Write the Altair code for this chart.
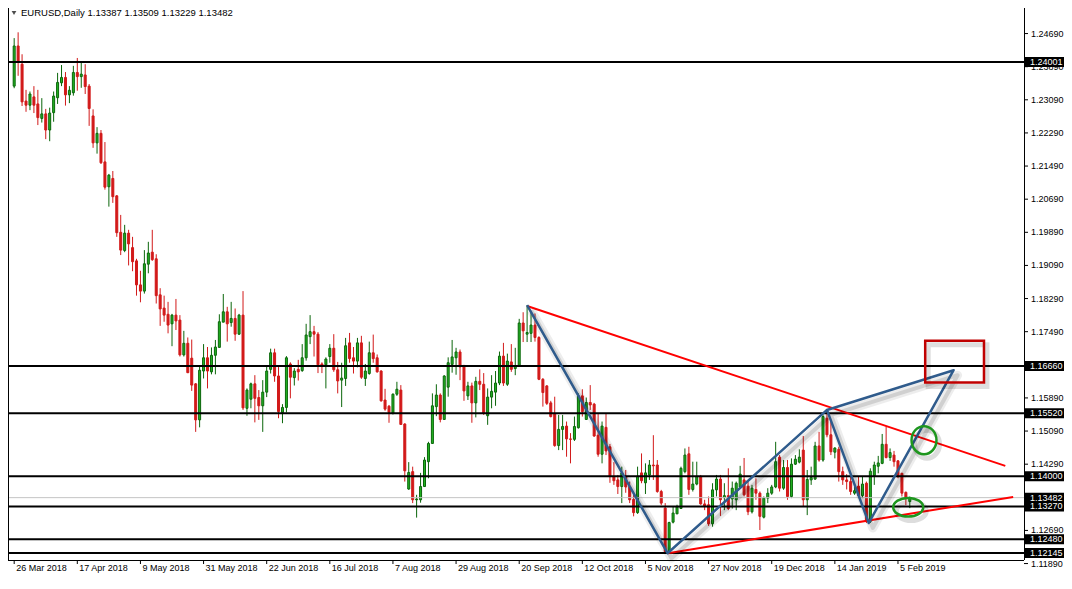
import altair as alt
import pandas as pd

# ---------------- data (EURUSD daily) ----------------
opens = [1.2342,1.2439,1.2395,1.2306,1.2296,1.2316,1.2299,1.2264,1.2275,1.2236,
         1.2278,1.2314,1.2350,1.2363,1.2321,1.2326,1.2375,1.2365,1.2369,1.2342,
         1.2270,1.2205,1.2228,1.2159,1.2099,1.2119,1.2077,1.1989,1.1945,1.1987,
         1.1952,1.1920,1.1862,1.1847,1.1912,1.1941,1.1925,1.1838,1.1806,1.1791,
         1.1768,1.1789,1.1777,1.1693,1.1721,1.1685,1.1623,1.1536,1.1654,1.1686,
         1.1652,1.1692,1.1711,1.1772,1.1797,1.1771,1.1781,1.1743,1.1789,1.1564,
         1.1586,1.1623,1.1590,1.1570,1.1603,1.1658,1.1698,1.1642,1.1554,1.1566,
         1.1671,1.1638,1.1658,1.1655,1.1686,1.1737,1.1749,1.1743,1.1671,1.1669,
         1.1689,1.1709,1.1657,1.1632,1.1636,1.1722,1.1686,1.1678,1.1722,1.1636,
         1.1648,1.1698,1.1686,1.1654,1.1584,1.1569,1.1552,1.1598,1.1608,1.1526,
         1.1369,1.1411,1.1343,1.1343,1.1375,1.1435,1.1479,1.1568,1.1596,1.1537,
         1.1615,1.1670,1.1686,1.1700,1.1666,1.1594,1.1618,1.1577,1.1629,1.1622,
         1.1546,1.1591,1.1603,1.1625,1.1690,1.1622,1.1676,1.1660,1.1666,1.1770,
         1.1743,1.1745,1.1765,1.1735,1.1634,1.1618,1.1577,1.1550,1.1474,1.1513,
         1.1521,1.1490,1.1489,1.1517,1.1594,1.1537,1.1578,1.1574,1.1499,1.1453,
         1.1518,1.1471,1.1398,1.1391,1.1375,1.1399,1.1375,1.1344,1.1312,1.1408,
         1.1384,1.1403,1.1427,1.1427,1.1363,1.1323,1.1218,1.1289,1.1309,1.1322,
         1.1411,1.1454,1.1368,1.1381,1.1399,1.1333,1.1331,1.1285,1.1367,1.1393,
         1.1348,1.1353,1.1345,1.1343,1.1374,1.1391,1.1376,1.1314,1.1368,1.1359,
         1.1301,1.1347,1.1359,1.1374,1.1446,1.1371,1.1421,1.1351,1.1429,1.1434,
         1.1463,1.1343,1.1391,1.1393,1.1473,1.1439,1.1540,1.1500,1.1458,1.1465,
         1.1411,1.1391,1.1387,1.1359,1.1376,1.1353,1.1383,1.1291,1.1401,1.1424,
         1.1431,1.1477,1.1445,1.1451,1.1437,1.1407,1.1361,1.13387]
highs = [1.2458,1.2472,1.2419,1.2333,1.2329,1.2342,1.2333,1.2313,1.2287,1.2290,
         1.2329,1.2374,1.2393,1.2376,1.2342,1.2391,1.2410,1.2399,1.2395,1.2347,
         1.2286,1.2243,1.2236,1.2207,1.2130,1.2137,1.2079,1.2031,1.2007,1.1995,
         1.1978,1.1925,1.1896,1.1946,1.1966,1.1995,1.1936,1.1854,1.1836,1.1821,
         1.1792,1.1828,1.1789,1.1751,1.1735,1.1730,1.1625,1.1668,1.1719,1.1712,
         1.1711,1.1729,1.1791,1.1840,1.1809,1.1821,1.1805,1.1792,1.1847,1.1612,
         1.1626,1.1644,1.1608,1.1632,1.1668,1.1708,1.1708,1.1666,1.1574,1.1690,
         1.1675,1.1661,1.1681,1.1719,1.1768,1.1789,1.1763,1.1748,1.1675,1.1687,
         1.1719,1.1743,1.1676,1.1674,1.1734,1.1746,1.1712,1.1734,1.1739,1.1671,
         1.1725,1.1742,1.1694,1.1656,1.1611,1.1572,1.1600,1.1628,1.1620,1.1528,
         1.1434,1.1423,1.1355,1.1408,1.1446,1.1483,1.1600,1.1622,1.1600,1.1644,
         1.1687,1.1729,1.1710,1.1706,1.1669,1.1628,1.1626,1.1640,1.1658,1.1649,
         1.1612,1.1644,1.1654,1.1701,1.1722,1.1696,1.1719,1.1710,1.1780,1.1796,
         1.1813,1.1796,1.1793,1.1738,1.1637,1.1620,1.1582,1.1592,1.1548,1.1548,
         1.1532,1.1504,1.1544,1.1600,1.1610,1.1590,1.1620,1.1577,1.1552,1.1532,
         1.1552,1.1478,1.1434,1.1403,1.1423,1.1415,1.1387,1.1355,1.1423,1.1455,
         1.1431,1.1439,1.1499,1.1439,1.1367,1.1335,1.1290,1.1326,1.1331,1.1423,
         1.1467,1.1471,1.1435,1.1435,1.1403,1.1343,1.1351,1.1383,1.1403,1.1403,
         1.1383,1.1419,1.1387,1.1387,1.1425,1.1444,1.1387,1.1379,1.1395,1.1363,
         1.1351,1.1371,1.1379,1.1483,1.1451,1.1439,1.1439,1.1443,1.1451,1.1465,
         1.1497,1.1415,1.1423,1.1483,1.1507,1.1548,1.1560,1.1532,1.1470,1.1471,
         1.1423,1.1405,1.1407,1.1375,1.1399,1.1399,1.1387,1.1419,1.1435,1.1449,
         1.1502,1.1520,1.1467,1.1461,1.1439,1.1408,1.1363,1.13509]
lows = [1.2337,1.2367,1.2294,1.2280,1.2284,1.2277,1.2248,1.2254,1.2214,1.2209,
        1.2256,1.2299,1.2342,1.2295,1.2301,1.2319,1.2331,1.2338,1.2323,1.2246,
        1.2193,1.2179,1.2154,1.2092,1.2051,1.2060,1.1978,1.1934,1.1941,1.1909,
        1.1895,1.1836,1.1820,1.1841,1.1890,1.1920,1.1817,1.1763,1.1773,1.1745,
        1.1714,1.1753,1.1689,1.1689,1.1649,1.1606,1.1507,1.1518,1.1636,1.1612,
        1.1646,1.1646,1.1711,1.1772,1.1725,1.1761,1.1727,1.1741,1.1560,1.1546,
        1.1564,1.1530,1.1536,1.1507,1.1591,1.1648,1.1628,1.1540,1.1528,1.1554,
        1.1588,1.1619,1.1631,1.1652,1.1679,1.1719,1.1689,1.1649,1.1649,1.1612,
        1.1674,1.1652,1.1600,1.1567,1.1618,1.1674,1.1648,1.1663,1.1635,1.1618,
        1.1645,1.1674,1.1650,1.1580,1.1558,1.1529,1.1549,1.1594,1.1524,1.1387,
        1.1367,1.1335,1.1300,1.1336,1.1375,1.1395,1.1479,1.1545,1.1530,1.1536,
        1.1592,1.1650,1.1645,1.1632,1.1582,1.1584,1.1529,1.1542,1.1608,1.1548,
        1.1524,1.1564,1.1570,1.1620,1.1618,1.1618,1.1652,1.1644,1.1666,1.1724,
        1.1724,1.1724,1.1725,1.1632,1.1568,1.1572,1.1542,1.1471,1.1463,1.1463,
        1.1447,1.1431,1.1485,1.1515,1.1544,1.1536,1.1560,1.1495,1.1447,1.1431,
        1.1451,1.1384,1.1379,1.1357,1.1335,1.1360,1.1335,1.1303,1.1309,1.1383,
        1.1357,1.1391,1.1391,1.1360,1.1330,1.1214,1.1214,1.1286,1.1309,1.1322,
        1.1407,1.1355,1.1363,1.1378,1.1331,1.1318,1.1280,1.1278,1.1351,1.1304,
        1.1318,1.1318,1.1322,1.1318,1.1371,1.1351,1.1306,1.1310,1.1343,1.1270,
        1.1298,1.1335,1.1355,1.1371,1.1363,1.1367,1.1343,1.1347,1.1427,1.1431,
        1.1326,1.1306,1.1379,1.1391,1.1435,1.1435,1.1494,1.1451,1.1443,1.1387,
        1.1379,1.1368,1.1355,1.1355,1.1347,1.1347,1.1287,1.1287,1.1379,1.1407,
        1.1429,1.1443,1.1437,1.1423,1.1395,1.1351,1.1330,1.13229]
closes = [1.2439,1.2400,1.2304,1.2296,1.2323,1.2296,1.2266,1.2275,1.2236,1.2277,
          1.2318,1.2351,1.2363,1.2321,1.2332,1.2375,1.2365,1.2371,1.2341,1.2288,
          1.2205,1.2228,1.2157,1.2098,1.2127,1.2075,1.1988,1.1946,1.1987,1.1961,
          1.1918,1.1862,1.1847,1.1913,1.1939,1.1923,1.1836,1.1804,1.1789,1.1765,
          1.1789,1.1775,1.1693,1.1721,1.1650,1.1620,1.1536,1.1656,1.1686,1.1654,
          1.1692,1.1712,1.1773,1.1797,1.1768,1.1781,1.1743,1.1789,1.1565,1.1608,
          1.1623,1.1588,1.1570,1.1603,1.1654,1.1698,1.1642,1.1556,1.1566,1.1686,
          1.1639,1.1654,1.1652,1.1686,1.1741,1.1749,1.1743,1.1669,1.1666,1.1683,
          1.1709,1.1657,1.1630,1.1637,1.1715,1.1684,1.1678,1.1722,1.1639,1.1654,
          1.1698,1.1684,1.1652,1.1582,1.1562,1.1554,1.1598,1.1610,1.1525,1.1413,
          1.1409,1.1343,1.1345,1.1375,1.1439,1.1479,1.1570,1.1596,1.1537,1.1642,
          1.1674,1.1688,1.1700,1.1664,1.1606,1.1618,1.1577,1.1629,1.1622,1.1552,
          1.1591,1.1605,1.1625,1.1690,1.1625,1.1678,1.1658,1.1666,1.1770,1.1751,
          1.1747,1.1765,1.1735,1.1634,1.1602,1.1576,1.1544,1.1474,1.1513,1.1520,
          1.1490,1.1489,1.1520,1.1594,1.1556,1.1578,1.1572,1.1497,1.1453,1.1521,
          1.1461,1.1399,1.1389,1.1375,1.1408,1.1374,1.1343,1.1312,1.1400,1.1389,
          1.1408,1.1427,1.1425,1.1363,1.1335,1.1218,1.1288,1.1311,1.1326,1.1419,
          1.1451,1.1368,1.1381,1.1399,1.1333,1.1328,1.1285,1.1367,1.1393,1.1343,
          1.1353,1.1322,1.1371,1.1383,1.1405,1.1355,1.1314,1.1371,1.1359,1.1303,
          1.1347,1.1359,1.1374,1.1435,1.1371,1.1421,1.1351,1.1429,1.1441,1.1446,
          1.1343,1.1392,1.1397,1.1473,1.1439,1.1544,1.1500,1.1459,1.1468,1.1411,
          1.1391,1.1387,1.1363,1.1365,1.1353,1.1381,1.1291,1.1412,1.1427,1.1432,
          1.1477,1.1445,1.1457,1.1435,1.1399,1.1359,1.1347,1.13482]

date_labels = ["26 Mar 2018", "17 Apr 2018", "9 May 2018", "31 May 2018", "22 Jun 2018",
               "16 Jul 2018", "7 Aug 2018", "29 Aug 2018", "20 Sep 2018", "12 Oct 2018",
               "5 Nov 2018", "27 Nov 2018", "19 Dec 2018", "14 Jan 2019", "5 Feb 2019"]
date_bars = [0, 16, 32, 48, 64, 80, 96, 112, 128, 144, 160, 176, 192, 208, 224]

price_ticks = [1.11890, 1.12690, 1.13490, 1.14290, 1.15090, 1.15890, 1.16690, 1.17490,
               1.18290, 1.19090, 1.19890, 1.20690, 1.21490, 1.22290, 1.23090, 1.23890, 1.24690]

level_prices = [1.24001, 1.16660, 1.15520, 1.14000, 1.13270, 1.12480, 1.12145]
bid_price = 1.13482
tag_prices = [1.24001, 1.16660, 1.15520, 1.14000, 1.13482, 1.13270, 1.12480, 1.12145]

# drawn objects (bar index, price)
res_bar = [130.0, 251.2]
res_price = [1.1811, 1.1425]
sup_bar = [165.7, 253.2]
sup_price = [1.1214, 1.1350]
pattern_bar = [130.0, 165.6, 206.0, 216.6, 238.1, 206.0]
pattern_price = [1.1813, 1.1214, 1.1560, 1.1287, 1.1656, 1.1560]
circle_bar = [230.6, 226.6]
circle_price = [1.1487, 1.1325]
box_bar = [230.9, 245.8]
box_price = [1.1626, 1.1727]

title_text = "EURUSD,Daily  1.13387 1.13509 1.13229 1.13482"

# ---------------- build ----------------
W, H = 1016, 552
PAD_R, PAD_B = 40, 13
FONT = "Liberation Sans"
UP_FILL, UP_EDGE, DOWN = "#22B422", "#0B660B", "#D21A1A"

n = len(opens)
candles = pd.DataFrame({
    "i": list(range(n)), "open": opens, "close": closes,
    "high": [max(h, o, c) for h, o, c in zip(highs, opens, closes)],
    "low": [min(l, o, c) for l, o, c in zip(lows, opens, closes)],
})
candles["dir"] = ["up" if c >= o else "down" for o, c in zip(opens, closes)]

xs = alt.Scale(domain=[-0.3, 254.675], nice=False, zero=False)
ys = alt.Scale(domain=[1.11976, 1.25307], nice=False, zero=False)


def X(f):
    return alt.X(f, scale=xs, axis=None)


def Y(f):
    return alt.Y(f, scale=ys, axis=None)


base = alt.Chart(candles)
wicks = base.mark_rule(strokeWidth=1, clip=True).encode(
    x=X("i:Q"), y=Y("low:Q"), y2="high:Q",
    color=alt.Color("dir:N", scale=alt.Scale(domain=["up", "down"], range=[UP_EDGE, DOWN]), legend=None),
)
bodies = base.mark_bar(size=2, strokeWidth=1, clip=True).encode(
    x=X("i:Q"), y=Y("open:Q"), y2="close:Q",
    fill=alt.Fill("dir:N", scale=alt.Scale(domain=["up", "down"], range=[UP_FILL, DOWN]), legend=None),
    stroke=alt.Stroke("dir:N", scale=alt.Scale(domain=["up", "down"], range=[UP_EDGE, DOWN]), legend=None),
)

bid = alt.Chart(pd.DataFrame({"p": [bid_price]})).mark_rule(color="#C4C4C4", strokeWidth=1).encode(
    y=Y("p:Q"))
levels = alt.Chart(pd.DataFrame({"p": level_prices})).mark_rule(color="#000000", strokeWidth=2).encode(
    y=Y("p:Q"))

red_df = pd.DataFrame({"b": res_bar + sup_bar, "p": res_price + sup_price,
                       "seg": ["r", "r", "s", "s"]})
red_lines = alt.Chart(red_df).mark_line(color="#FF0000", strokeWidth=2).encode(
    x=X("b:Q"), y=Y("p:Q"), detail="seg:N")

pat_df = pd.DataFrame({"b": pattern_bar, "p": pattern_price, "o": list(range(len(pattern_bar)))})
pat_enc = dict(x=X("b:Q"), y=Y("p:Q"), order="o:Q")
pat_shadow1 = alt.Chart(pat_df).mark_line(color="#000000", opacity=0.07, strokeWidth=9, xOffset=4,
                                          yOffset=5, strokeJoin="round").encode(**pat_enc)
pat_shadow2 = alt.Chart(pat_df).mark_line(color="#000000", opacity=0.12, strokeWidth=4, xOffset=4,
                                          yOffset=5, strokeJoin="round").encode(**pat_enc)
pattern = alt.Chart(pat_df).mark_line(color="#2F5B8C", strokeWidth=2.5, strokeJoin="round").encode(**pat_enc)

ell_df = pd.DataFrame({"b": circle_bar, "p": circle_price, "k": ["a", "b"]})
ELL_A = "M -0.89 0 A 0.89 1 0 1 0 0.89 0 A 0.89 1 0 1 0 -0.89 0 Z"
ELL_B = "M -1 0 A 1 0.62 0 1 0 1 0 A 1 0.62 0 1 0 -1 0 Z"
ell_layers = []
for k, shape, size in [("a", ELL_A, 784), ("b", ELL_B, 900)]:
    d = ell_df[ell_df.k == k]
    enc = dict(x=X("b:Q"), y=Y("p:Q"))
    ell_layers.append(alt.Chart(d).mark_point(shape=shape, size=size, filled=False, color="#000000",
                                              opacity=0.13, strokeWidth=5, xOffset=3, yOffset=4).encode(**enc))
    ell_layers.append(alt.Chart(d).mark_point(shape=shape, size=size, filled=False, color="#1E961E",
                                              opacity=1, strokeWidth=2.5).encode(**enc))

box_df = pd.DataFrame({"b1": [box_bar[0]], "b2": [box_bar[1]], "p1": [box_price[0]], "p2": [box_price[1]]})
box_enc = dict(x=X("b1:Q"), x2="b2:Q", y=Y("p1:Q"), y2="p2:Q")
box_shadow = alt.Chart(box_df).mark_rect(filled=False, color="#000000", opacity=0.13, strokeWidth=5,
                                         xOffset=3, x2Offset=3, yOffset=4, y2Offset=4).encode(**box_enc)
box = alt.Chart(box_df).mark_rect(filled=False, color="#C00000", strokeWidth=2.5).encode(**box_enc)

# ---- hand-made axes (MetaTrader style) ----
one = pd.DataFrame({"a": [0]})
y_domain = alt.Chart(one).mark_rule(color="#000000", strokeWidth=1).encode(
    x=alt.value(W + 0.5), y=alt.value(0), y2=alt.value(H))
x_domain = alt.Chart(one).mark_rule(color="#000000", strokeWidth=1).encode(
    y=alt.value(H + 0.5), x=alt.value(0), x2=alt.value(W))
left_border = alt.Chart(one).mark_rule(color="#000000", strokeWidth=1).encode(
    x=alt.value(0.5), y=alt.value(0), y2=alt.value(H))

pt_df = pd.DataFrame({"p": price_ticks, "t": ["%.5f" % v for v in price_ticks]})
y_ticks = alt.Chart(pt_df).mark_rule(color="#000000", strokeWidth=1).encode(
    x=alt.value(W), x2=alt.value(W + 4), y=Y("p:Q"))
y_labels = alt.Chart(pt_df).mark_text(align="left", baseline="middle", font=FONT, fontSize=9,
                                      color="#000000").encode(x=alt.value(W + 7), y=Y("p:Q"), text="t:N")

dt_df = pd.DataFrame({"b": date_bars, "t": date_labels})
x_ticks = alt.Chart(dt_df).mark_rule(color="#000000", strokeWidth=1).encode(
    x=X("b:Q"), y=alt.value(H), y2=alt.value(H + 4))
x_labels = alt.Chart(dt_df).mark_text(align="left", baseline="middle", font=FONT, fontSize=9,
                                      color="#000000", dx=2).encode(x=X("b:Q"), y=alt.value(H + 8), text="t:N")

tag_df = pd.DataFrame({"p": tag_prices, "t": ["%.5f" % v for v in tag_prices]})
tag_bg = alt.Chart(tag_df).mark_rule(color="#000000", strokeWidth=10, strokeCap="butt").encode(
    x=alt.value(W + 1), x2=alt.value(W + 40), y=Y("p:Q"))
tag_txt = alt.Chart(tag_df).mark_text(align="left", baseline="middle", font=FONT, fontSize=9,
                                      color="#FFFFFF").encode(x=alt.value(W + 6), y=Y("p:Q"), text="t:N")

head_df = pd.DataFrame({"t": [title_text]})
tri = alt.Chart(head_df).mark_point(shape="triangle-down", filled=True, size=22, color="#000000").encode(
    x=alt.value(6), y=alt.value(5))
head = alt.Chart(head_df).mark_text(align="left", baseline="middle", font=FONT, fontSize=9.5,
                                    color="#000000").encode(x=alt.value(13), y=alt.value(5), text="t:N")

chart = alt.layer(
    wicks, bodies, bid, levels, red_lines, pat_shadow1, pat_shadow2, pattern,
    *ell_layers, box_shadow, box,
    y_domain, x_domain, left_border, y_ticks, y_labels, x_ticks, x_labels,
    tag_bg, tag_txt, tri, head
).properties(
    width=W, height=H, background="#FFFFFF",
    autosize=alt.AutoSizeParams(type="none"),
    padding={"left": 0, "top": 0, "right": PAD_R, "bottom": PAD_B},
).configure_view(stroke="transparent")

chart.save("out.html", embed_options={"renderer": "svg", "actions": False})
